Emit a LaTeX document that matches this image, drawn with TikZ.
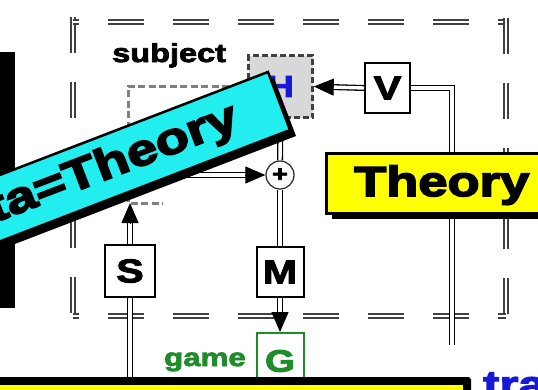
\documentclass[tikz,border=0pt]{standalone}
\usepackage{fontspec}
\usetikzlibrary{arrows.meta,calc,shadows}
\newfontfamily\hv[FakeStretch=1.25,FakeBold=3]{Liberation Sans}
\newfontfamily\hvx[FakeStretch=1.25,FakeBold=4]{Liberation Sans}
\newcommand\hvb{\hv\bfseries}
\newcommand\hvxb{\hvx\bfseries}
\definecolor{cyanb}{HTML}{22EEF0}
\definecolor{yel}{HTML}{FFFF00}
\definecolor{grn}{HTML}{1E8C2A}
\definecolor{blu}{HTML}{1818D8}
\definecolor{hgray}{HTML}{D8D8D8}
\begin{document}
\begin{tikzpicture}[x=1pt,y=-1pt,
  dbl/.style={draw=black,line width=1.3pt,double=white,double distance=3.4pt},
  odash/.style={draw=black!75,line width=1.5pt,double=white,double distance=2.5pt,dash pattern=on 36pt off 29pt},
  ibox/.style={draw=black!50,line width=3pt,dash pattern=on 7pt off 3.5pt},
  lbox/.style={draw=black,line width=2pt,fill=white,minimum width=46pt,minimum height=50pt,inner sep=0pt,font=\hvb\fontsize{33}{33}\selectfont},
  tipa/.style={-{Triangle[length=20pt,width=17pt]},line width=1pt},
  shad/.style={general shadow={fill=black,shadow xshift=6pt,shadow yshift=-6pt}},
]
\useasboundingbox (0,0) rectangle (538,389);
\clip (0,0) rectangle (538,389);
\fill[white] (0,0) rectangle (538,389);

% black bar at left
\fill[black] (0,52) rectangle (15,308);

% outer dashed double box
\draw[odash] (73,17) -- (73,318);
\draw[odash,dash phase=30pt] (73,22) -- (506,22);
\draw[odash] (506,18) -- (506,318);
\draw[odash,dash phase=30pt] (73,316) -- (506,316);

% inner dashed box (subject)
\coordinate (ibTR) at (250,86);
\coordinate (ibTL) at (128,86);
\coordinate (ibBL) at (128,203);
\coordinate (ibBR) at (163,203);
\draw[ibox] (ibTR) -- (ibTL) -- (ibBL) -- (ibBR);

% nodes
\node[draw=black!75,line width=2.5pt,dash pattern=on 6pt off 3pt,fill=hgray,
      minimum width=64pt,minimum height=62pt,inner sep=0pt,
      text=blu,font=\hvb\fontsize{30}{30}\selectfont] (H) at (280.5,86.5) {H};
\node[lbox,minimum width=45pt] (V) at (387.5,88) {V};
\node[lbox,minimum width=50pt,minimum height=52pt] (S) at (130,271) {S};
\node[lbox,minimum width=47pt] (M) at (280,272) {M};
\node[lbox,draw=grn,text=grn,minimum width=47pt,minimum height=56pt,
      font=\hvb\fontsize{31}{31}\selectfont] (G) at (280,361) {G};
\node[circle,draw=black!80,line width=1.3pt,fill=white,minimum size=28pt,inner sep=0pt,
      font=\hvb\fontsize{22}{22}\selectfont] (P) at (280,175) {+};

\coordinate (pL) at (150,175);
\coordinate (sT) at (S.north |- ibBL);
\coordinate (sB) at (130,395);
\coordinate (vE) at (452,345);

% connectors
\draw[dbl] (H.south) -- (P.north);
\draw[dbl] (P.south) -- (M.north);
\draw[dbl] (S.south) -- (sB);
\draw[dbl] (V.east) -| (vE);
\draw[dbl,shorten >=18pt] (S.north) -- (sT);
\draw[tipa] ($(sT)!20pt!(S.north)$) -- (sT);
\draw[dbl,shorten >=18pt] (pL) -- (P.west);
\draw[tipa] ($(P.west)!20pt!(pL)$) -- (P.west);
\draw[dbl,shorten >=18pt] (M.south) -- (G.north);
\draw[tipa] ($(G.north)!20pt!(M.south)$) -- (G.north);
\draw[dbl,shorten >=18pt] (V.west) -- (H.east);
\draw[tipa] ($(H.east)!20pt!(V.west)$) -- (H.east);

% small marks near bottom
\coordinate (mk1) at (448,378);
\coordinate (mk2) at (448,384);
\draw[draw=black!70,line width=0.9pt,double=white,double distance=2.2pt] (mk1) -- (mk2);

% cyan banner
\coordinate (bTR) at (268,72);
\coordinate (bBR) at (290,130);
\coordinate (bBL) at (-83.4,273.4);
\coordinate (bTL) at (-105.4,215.4);
\fill[black] ($(bTR)+(6,6)$) -- ($(bBR)+(6,6)$) -- ($(bBL)+(6,6)$) -- ($(bTL)+(6,6)$) -- cycle;
\filldraw[fill=cyanb,draw=black,line width=2.5pt] (bTR) -- (bBR) -- (bBL) -- (bTL) -- cycle;
\node[rotate=21,anchor=base east,inner sep=0pt,font=\hvxb\fontsize{44}{44}\selectfont] (bt) at (241,128) {ta=Theory};

% Theory box
\node[shad,fill=yel,draw=black,line width=2.5pt,minimum width=240pt,minimum height=60pt,
      anchor=north west,inner sep=0pt] (Tb) at (325,152) {};
\node[anchor=base west,inner sep=0pt,font=\hvxb\fontsize{42}{42}\selectfont] (Tt) at (354,196) {Theory};

% bottom yellow box
\fill[black,rounded corners=3pt] (-10,377) rectangle (471,400);
\fill[yel] (-10,385) rectangle (463,400);

% labels
\node[anchor=base west,inner sep=0pt,font=\hvb\fontsize{26}{26}\selectfont] (subj) at (112,62) {subject};
\node[anchor=base east,inner sep=0pt,text=grn,font=\hvb\fontsize{25}{25}\selectfont] (game) at (246,366) {game};
\node[anchor=base west,inner sep=0pt,text=blu,font=\hvb\fontsize{39}{39}\selectfont] (tra) at (483,398) {tra};
\end{tikzpicture}
\end{document}
